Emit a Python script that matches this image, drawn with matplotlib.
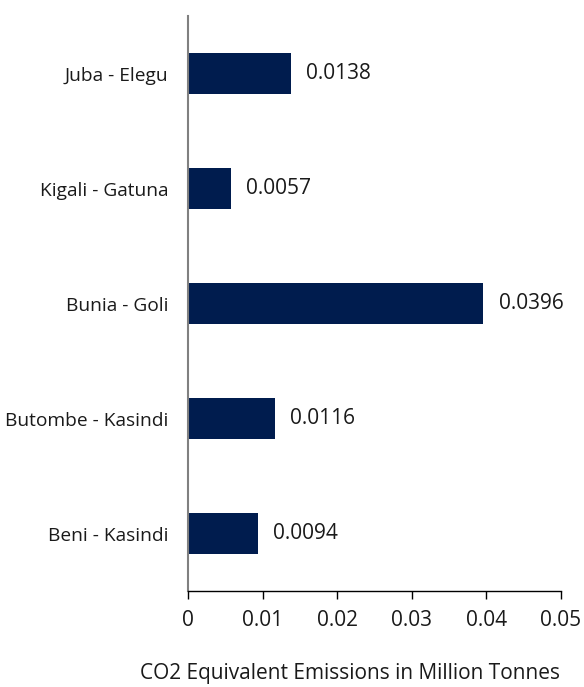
import matplotlib
matplotlib.use("Agg")
import matplotlib.pyplot as plt

# chart data
routes = ["Juba - Elegu", "Kigali - Gatuna", "Bunia - Goli", "Butombe - Kasindi", "Beni - Kasindi"]
emissions = [0.0138, 0.0057, 0.0396, 0.0116, 0.0094]
x_ticks = [0, 0.01, 0.02, 0.03, 0.04, 0.05]
x_tick_labels = ["0", "0.01", "0.02", "0.03", "0.04", "0.05"]

bar_color = "#001c4e"
text_color = "#1a1a1a"

plt.rcParams["font.family"] = ["Open Sans", "DejaVu Sans"]

fig = plt.figure(figsize=(5.84, 6.87), dpi=100)
ax = fig.add_axes([0.322, 0.1397, 0.9606 - 0.322, 0.9767 - 0.1397])

ypos = list(range(len(routes)))[::-1]
ax.barh(ypos, emissions, height=0.35, color=bar_color)

for y, v in zip(ypos, emissions):
    ax.annotate(f"{v:.4f}", xy=(v, y), xytext=(11, 0), textcoords="offset points",
                va="center", ha="left", fontsize=15, color=text_color)

ax.set_xlim(0, 0.05)
ax.set_ylim(-0.5, len(routes) - 0.5)
ax.set_yticks(ypos)
ax.set_yticklabels(routes, fontsize=13.8, color=text_color)
ax.set_xticks(x_ticks)
ax.set_xticklabels(x_tick_labels, fontsize=15, color=text_color)
ax.tick_params(axis="y", length=0, pad=14)
ax.tick_params(axis="x", length=6, width=1, direction="out", pad=8, color="#000000")
ax.set_xlabel("CO2 Equivalent Emissions in Million Tonnes", fontsize=15, color=text_color)
ax.xaxis.set_label_coords(0.435, -0.125)

for s in ["top", "right"]:
    ax.spines[s].set_visible(False)
ax.spines["left"].set_color("#808080")
ax.spines["left"].set_linewidth(1.5)
ax.spines["bottom"].set_color("#000000")
ax.spines["bottom"].set_linewidth(1)

fig.savefig("out.png", dpi=100)
